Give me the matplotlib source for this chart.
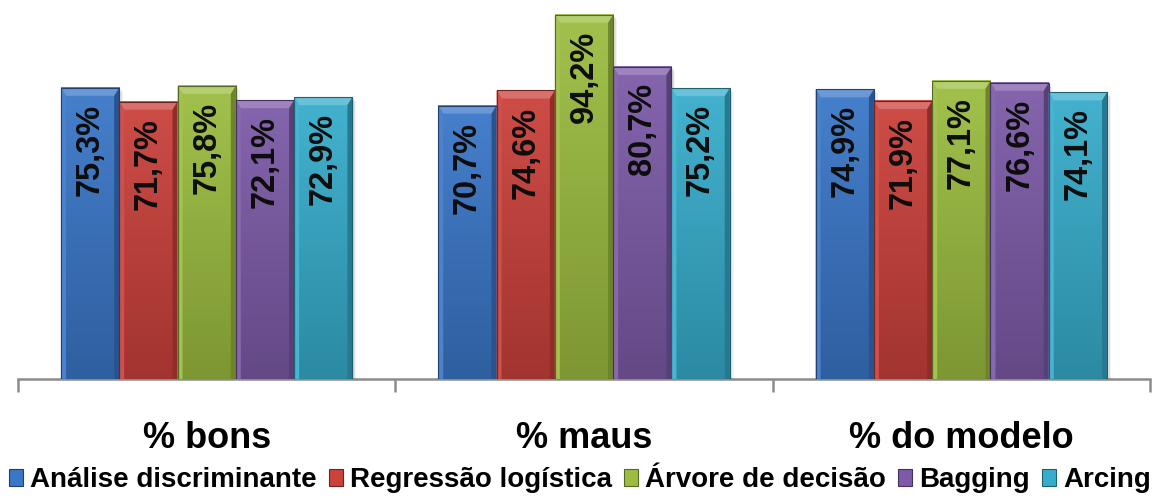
import matplotlib
import matplotlib.pyplot as plt
import numpy as np
from matplotlib.colors import to_rgb
from matplotlib.patches import Patch, Polygon

matplotlib.use("Agg")

categories = ["% bons", "% maus", "% do modelo"]
methods = ["Análise discriminante", "Regressão logística", "Árvore de decisão",
           "Bagging", "Arcing"]
analise = [75.3, 70.7, 74.9]
regressao = [71.7, 74.6, 71.9]
arvore = [75.8, 94.2, 77.1]
bagging = [72.1, 80.7, 76.6]
arcing = [72.9, 75.2, 74.1]
colors = ["#3a77c8", "#cb413b", "#9cbd40", "#7d5ba8", "#37adcc"]

series = [analise, regressao, arvore, bagging, arcing]

W, H, DPI = 11.6, 4.96, 100
plt.rcParams["font.family"] = ["Liberation Sans", "DejaVu Sans"]
plt.rcParams["font.weight"] = "bold"

fig = plt.figure(figsize=(W, H), dpi=DPI)
ax = fig.add_axes([18 / 1160, 117 / 496, 1132 / 1160, 379 / 496])
ax.set_xlim(-0.5, 2.5)
ax.set_ylim(0, 98.0)

# pixels per data unit, used to size the bevels
px_x = 1132 / 3.0
px_y = 379 / 98.0
bw = 0.1545
bev_top = 8 / px_y
bev_side = 5 / px_x


def shade(c, f):
    r = np.array(to_rgb(c))
    if f >= 0:
        return tuple(r + (1 - r) * f)
    return tuple(r * (1 + f))


x = np.arange(len(categories))
for j, (vals, col) in enumerate(zip(series, colors)):
    xs = x + (j - 2) * bw
    for xc, v in zip(xs, vals):
        x0, x1 = xc - bw / 2, xc + bw / 2
        # soft drop shadow
        for k, a in [(4, 0.05), (2.5, 0.07), (1.2, 0.08)]:
            ax.add_patch(Polygon([(x0 + k / px_x, -k / px_y), (x1 + k / px_x, -k / px_y),
                                  (x1 + k / px_x, v - k / px_y), (x0 + k / px_x, v - k / px_y)],
                                 closed=True, facecolor="#000000", alpha=a,
                                 edgecolor="none", zorder=1))
        # body gradient: lighter at top, darker at base
        grad = np.linspace(0, 1, 64)[:, None]
        top_c = np.array(shade(col, 0.06))
        bot_c = np.array(shade(col, -0.2))
        img = (top_c[None, None, :] * (1 - grad[..., None]) +
               bot_c[None, None, :] * grad[..., None])
        ax.imshow(img, extent=(x0, x1, 0, v), aspect="auto", zorder=2,
                  interpolation="bilinear")
        # bevel faces
        ax.add_patch(Polygon([(x0, v), (x1, v), (x1 - bev_side, v - bev_top),
                              (x0 + bev_side, v - bev_top)], closed=True,
                             facecolor=shade(col, 0.25), edgecolor="none", zorder=3))
        ax.add_patch(Polygon([(x0, v), (x0 + bev_side, v - bev_top),
                              (x0 + bev_side, 0), (x0, 0)], closed=True,
                             facecolor=shade(col, 0.08), edgecolor="none", zorder=3))
        ax.add_patch(Polygon([(x1, v), (x1 - bev_side, v - bev_top),
                              (x1 - bev_side, 0), (x1, 0)], closed=True,
                             facecolor=shade(col, -0.3), edgecolor="none", zorder=3))
        ax.add_patch(Polygon([(x0, 0), (x1, 0), (x1, v), (x0, v)], closed=True,
                             facecolor="none", edgecolor=shade(col, -0.45),
                             linewidth=0.8, zorder=4))
        ax.annotate(f"{v:.1f}%".replace(".", ","), xy=(xc, v), xytext=(0, -11.5),
                    textcoords="offset points", rotation=90, ha="center", va="top",
                    fontsize=23.5, fontweight="bold", color="#0d0d0d", zorder=5)

for s in ["top", "right", "left"]:
    ax.spines[s].set_visible(False)
ax.spines["bottom"].set_color("#8c8c8c")
ax.spines["bottom"].set_linewidth(1.8)
ax.spines["bottom"].set_zorder(0)
ax.set_yticks([])
ax.set_xticks(x)
ax.set_xticklabels(categories, fontsize=26, fontweight="bold")
ax.tick_params(axis="x", which="major", length=0, pad=30)
ax.set_xticks([-0.5, 0.5, 1.5, 2.5], minor=True)
ax.tick_params(axis="x", which="minor", length=9, width=1.8, color="#8c8c8c",
               direction="out")

handles = [Patch(facecolor=c, edgecolor=shade(c, -0.45), linewidth=0.8) for c in colors]
fig.legend(handles, methods, loc="center", bbox_to_anchor=(0.5, 16 / 496), ncol=5,
           frameon=False, prop={"size": 20, "weight": "bold"},
           handlelength=0.5, handleheight=0.55, handletextpad=0.25,
           columnspacing=0.45, borderaxespad=0)

fig.savefig("out.png", dpi=DPI)
